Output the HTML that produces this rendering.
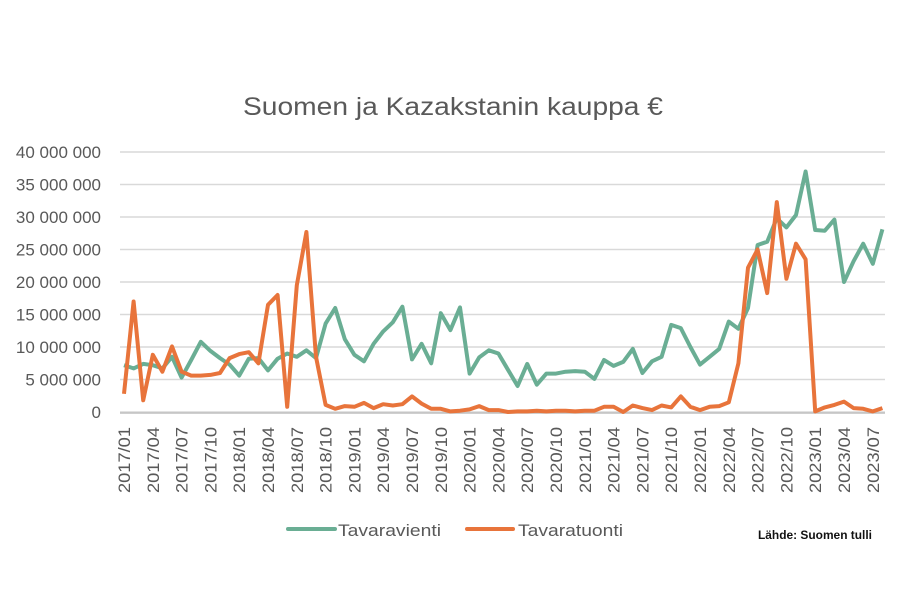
<!DOCTYPE html>
<html><head><meta charset="utf-8"><style>
html,body{margin:0;padding:0;background:#fff;}
svg text{font-family:"Liberation Sans",sans-serif;}
</style></head><body>
<svg id="s" width="900" height="600" xmlns="http://www.w3.org/2000/svg">
<rect width="900" height="600" fill="#fff"/>
<text x="453" y="115" text-anchor="middle" font-size="25" fill="#595959" textLength="420" lengthAdjust="spacingAndGlyphs">Suomen ja Kazakstanin kauppa €</text>
<g id="grid" stroke="#d9d9d9" stroke-width="1.5"></g>
<g id="yl" font-size="17" fill="#595959" text-anchor="end"></g>
<g id="xl" font-size="16.5" fill="#595959"></g>
<g id="ser" fill="none" stroke-width="4" stroke-linejoin="round"></g>
<line x1="288" y1="529" x2="335" y2="529" stroke="#6aae94" stroke-width="4" stroke-linecap="round"/>
<text x="338" y="536" font-size="17" fill="#595959" textLength="103" lengthAdjust="spacingAndGlyphs">Tavaravienti</text>
<line x1="467" y1="529" x2="513" y2="529" stroke="#e8743b" stroke-width="4" stroke-linecap="round"/>
<text x="518" y="536" font-size="17" fill="#595959" textLength="105" lengthAdjust="spacingAndGlyphs">Tavaratuonti</text>
<text x="758" y="539" font-size="12" font-weight="bold" fill="#111" textLength="114" lengthAdjust="spacingAndGlyphs">Lähde: Suomen tulli</text>
</svg>
<script>
var NS="http://www.w3.org/2000/svg";
function el(p,t,a,txt){var e=document.createElementNS(NS,t);for(var k in a)e.setAttribute(k,a[k]);if(txt)e.textContent=txt;p.appendChild(e);return e;}
var g=document.getElementById('grid'),yl=document.getElementById('yl'),xl=document.getElementById('xl'),ser=document.getElementById('ser');
var labs=["0","5 000 000","10 000 000","15 000 000","20 000 000","25 000 000","30 000 000","35 000 000","40 000 000"];
for(var i=0;i<=8;i++){var y=412-i*32.5;el(g,'line',{x1:120,x2:885,y1:y,y2:y});el(yl,'text',{x:101,y:y+6},labs[i]);}
function X(i){return 124+i*9.6;}
function Y(v){return 412-v*6.5;}
var gr=[7.2,6.7,7.4,7.2,6.7,8.5,5.3,8,10.8,9.4,8.3,7.3,5.6,8.2,8.3,6.4,8.2,9.0,8.5,9.5,8.3,13.6,16,11.2,8.8,7.8,10.5,12.4,13.8,16.2,8.1,10.5,7.5,15.2,12.6,16.1,5.9,8.4,9.5,9.0,6.5,4.0,7.4,4.2,5.9,5.9,6.2,6.3,6.2,5.1,8.0,7.1,7.7,9.7,6.0,7.8,8.5,13.4,12.9,10.0,7.3,8.5,9.7,13.9,12.8,16.0,25.7,26.2,29.8,28.4,30.3,37.0,28.0,27.9,29.6,20.0,23.2,25.9,22.8,28.1];
var or=[2.8,17,1.8,8.8,6.2,10.1,6.2,5.6,5.6,5.7,6.0,8.3,8.9,9.2,7.5,16.5,18.0,0.8,19.5,27.7,8.5,1.1,0.5,0.9,0.8,1.4,0.6,1.2,1.0,1.2,2.4,1.3,0.5,0.5,0.1,0.2,0.4,0.9,0.3,0.3,0.0,0.1,0.1,0.2,0.1,0.2,0.2,0.1,0.2,0.2,0.8,0.8,0.0,1.0,0.6,0.3,1.0,0.7,2.4,0.8,0.3,0.8,0.9,1.5,7.5,22.2,25,18.3,32.3,20.5,25.9,23.5,0.1,0.7,1.1,1.6,0.6,0.5,0.1,0.6];
function pts(a){return a.map(function(v,i){return X(i).toFixed(1)+','+Y(v).toFixed(1);}).join(' ');}
el(g,'line',{x1:120,x2:885,y1:413,y2:413,stroke:'#bfbfbf'});
el(ser,'polyline',{points:pts(gr),stroke:'#6aae94'});
el(ser,'polyline',{points:pts(or),stroke:'#e8743b'});
var mm=["01","04","07","10"];
for(var k=0;k<27;k++){var i=k*3;var yr=2017+Math.floor(i/12);var m=mm[(i%12)/3];var x=X(i)+6;
el(xl,'text',{x:0,y:0,transform:'translate('+x+',493) rotate(-90)',textLength:66,lengthAdjust:'spacingAndGlyphs'},yr+'/'+m);}
</script>
</body></html>
